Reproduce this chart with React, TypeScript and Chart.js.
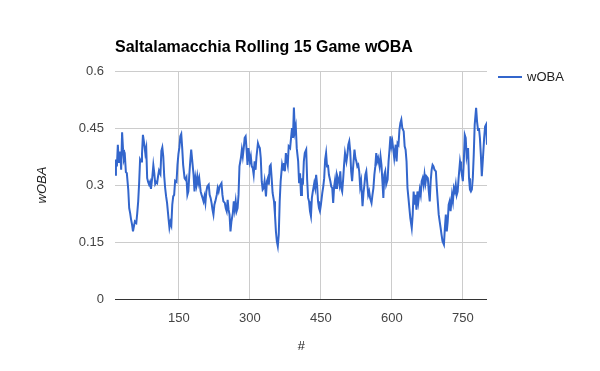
import React, { useEffect, useRef } from "react";
import { Chart, registerables } from "chart.js";

Chart.register(...registerables);

const chartTitle = "Saltalamacchia Rolling 15 Game wOBA";
const seriesName = "wOBA";
const xAxisTitle = "#";
const yAxisTitle = "wOBA";
const xTickValues = [150, 300, 450, 600, 750];
const yTickValues = [0, 0.15, 0.3, 0.45, 0.6];

const games = [
  15, 17, 19, 21, 23,
  26, 28, 30, 32, 34, 36, 38, 40,
  43, 45, 47, 49, 51, 53, 55, 57,
  60, 62, 64, 66, 68, 70, 72, 74,
  77, 79, 81, 83, 85, 87, 89, 91,
  94, 96, 98, 100, 102, 104, 106, 108,
  111, 113, 115, 117, 119, 121, 123, 125,
  128, 130, 132, 134, 136, 138, 140, 142,
  145, 147, 149, 151, 153, 155, 157, 159,
  162, 164, 166, 168, 170, 172, 174, 176,
  179, 181, 183, 185, 187, 189, 191, 193,
  196, 198, 200, 202, 204, 206, 208, 210,
  213, 215, 217, 219, 221, 223, 225, 227,
  230, 232, 234, 236, 238, 240, 242, 244,
  247, 249, 251, 253, 255, 257, 259, 261,
  264, 266, 268, 270, 272, 274, 276, 278,
  281, 283, 285, 287, 289, 291, 293, 295, 297,
  300, 302, 304, 306, 308, 310, 312, 314,
  317, 319, 321, 323, 325, 327, 329, 331,
  334, 336, 338, 340, 342, 344, 346, 348,
  351, 353, 355, 357, 359, 361, 363, 365,
  368, 370, 372, 374, 376, 378, 380, 382,
  385, 387, 389, 391, 393, 395, 397, 399,
  402, 404, 406, 408, 410, 412, 414, 416,
  419, 421, 423, 425, 427, 429, 431, 433,
  436, 438, 440, 442, 444, 446, 448, 450,
  453, 455, 457, 459, 461, 463, 465, 467,
  470, 472, 474, 476, 478, 480, 482, 484,
  487, 489, 491, 493, 495, 497, 499, 501,
  504, 506, 508, 510, 512, 514, 516, 518,
  521, 523, 525, 527, 529, 531, 533, 535,
  538, 540, 542, 544, 546, 548, 550, 552, 554,
  557, 559, 561, 563, 565, 567, 569, 571,
  574, 576, 578, 580, 582, 584, 586, 588,
  591, 593, 595, 597, 599, 601, 603, 605,
  608, 610, 612, 614, 616, 618, 620, 622,
  625, 627, 629, 631, 633, 635, 637, 639,
  642, 644, 646, 648, 650, 652, 654, 656,
  659, 661, 663, 665, 667, 669, 671, 673,
  676, 678, 680, 682, 684, 686, 688, 690,
  693, 695, 697, 699, 701, 703, 705, 707,
  710, 712, 714, 716, 718, 720, 722, 724,
  727, 729, 731, 733, 735, 737, 739, 741,
  744, 746, 748, 750, 752, 754, 756, 758,
  761, 763, 765, 767, 769, 771, 773, 775,
  778, 780, 782, 784, 786, 788, 790, 792,
  795, 797, 799, 801,
];

const woba = [
  0.327, 0.367, 0.349, 0.406, 0.358, 0.388, 0.340, 0.439, 0.393, 0.367,
  0.375, 0.334, 0.331, 0.288, 0.239, 0.226, 0.209, 0.196, 0.178, 0.191,
  0.204, 0.200, 0.226, 0.257, 0.305, 0.367, 0.362, 0.380, 0.432, 0.406,
  0.384, 0.397, 0.318, 0.308, 0.301, 0.308, 0.290, 0.323, 0.352, 0.331,
  0.303, 0.308, 0.305, 0.323, 0.338, 0.329, 0.390, 0.399, 0.375, 0.323,
  0.292, 0.270, 0.253, 0.213, 0.188, 0.202, 0.194, 0.248, 0.270, 0.274,
  0.311, 0.308, 0.353, 0.381, 0.399, 0.428, 0.434, 0.397, 0.353, 0.318,
  0.314, 0.320, 0.274,
  0.283, 0.327, 0.362, 0.393, 0.353, 0.327, 0.283, 0.318, 0.301, 0.323,
  0.305, 0.318, 0.283, 0.274, 0.266, 0.257, 0.270, 0.253, 0.283, 0.296,
  0.301, 0.274, 0.266, 0.253, 0.235, 0.222, 0.248, 0.257, 0.274, 0.292,
  0.283, 0.296, 0.301, 0.305, 0.274, 0.257, 0.253, 0.239, 0.231, 0.261,
  0.235, 0.222, 0.178, 0.204, 0.226, 0.257, 0.235, 0.257, 0.231, 0.239,
  0.274, 0.349, 0.371, 0.393, 0.375, 0.397, 0.424, 0.428, 0.393, 0.353,
  0.397, 0.362, 0.375, 0.349, 0.345, 0.327, 0.362, 0.340, 0.375, 0.410,
  0.402, 0.397, 0.371, 0.310, 0.288,
  0.292, 0.310, 0.270, 0.310, 0.318, 0.301, 0.349, 0.353, 0.318, 0.279,
  0.257, 0.222, 0.178, 0.152, 0.139, 0.169, 0.257, 0.310, 0.353, 0.340,
  0.358, 0.336, 0.384, 0.367, 0.353, 0.402, 0.397, 0.424, 0.450, 0.424,
  0.504, 0.441, 0.454, 0.397, 0.362, 0.305, 0.331, 0.274, 0.318, 0.301,
  0.362, 0.384, 0.393, 0.314, 0.266, 0.257, 0.231, 0.218, 0.266, 0.283,
  0.305, 0.292, 0.327, 0.301, 0.257, 0.239, 0.231, 0.248, 0.279, 0.296,
  0.318, 0.367, 0.384, 0.349, 0.353, 0.327, 0.310, 0.296, 0.292, 0.253,
  0.296, 0.314, 0.292, 0.327, 0.314,
  0.301, 0.336, 0.292, 0.283, 0.314, 0.353, 0.384, 0.362, 0.380, 0.406,
  0.415, 0.388, 0.336, 0.310, 0.345, 0.393, 0.371, 0.362, 0.349, 0.353,
  0.336, 0.296, 0.310, 0.244, 0.279, 0.301, 0.327, 0.336, 0.305, 0.274,
  0.283, 0.266, 0.253, 0.274, 0.292, 0.327, 0.349, 0.384, 0.362, 0.371,
  0.349, 0.375, 0.353, 0.310, 0.266, 0.327, 0.336, 0.301, 0.314, 0.362,
  0.393, 0.428, 0.402, 0.415, 0.393, 0.371, 0.406, 0.362, 0.410, 0.406,
  0.445, 0.463, 0.472, 0.450, 0.441, 0.402, 0.393, 0.362, 0.292, 0.266,
  0.239, 0.213, 0.187, 0.222, 0.283,
  0.248, 0.274, 0.235, 0.283, 0.257, 0.288, 0.274, 0.310, 0.318, 0.301,
  0.327, 0.305, 0.323, 0.318, 0.283, 0.257, 0.310, 0.340, 0.353, 0.349,
  0.340, 0.336, 0.292, 0.257, 0.222, 0.204, 0.187, 0.169, 0.152, 0.143,
  0.187, 0.222, 0.178, 0.204, 0.248, 0.257, 0.231, 0.274, 0.257, 0.292,
  0.283, 0.301, 0.274, 0.283, 0.318, 0.362, 0.345, 0.327, 0.310, 0.362,
  0.432, 0.424, 0.375, 0.397, 0.318, 0.288, 0.283, 0.288, 0.318, 0.380,
  0.459, 0.503, 0.467, 0.445, 0.450, 0.424, 0.380, 0.323, 0.362, 0.424,
  0.454, 0.459, 0.406,
];

const FONT = "'Liberation Sans', Arial, sans-serif";
const LINE_COLOR = "#3366cc";

const decorPlugin = {
  id: "decor",
  afterDraw(chart: any) {
    const ctx = chart.ctx as CanvasRenderingContext2D;
    const area = chart.chartArea;
    ctx.save();
    // Title
    ctx.fillStyle = "#000";
    ctx.font = `bold 16px ${FONT}`;
    ctx.textAlign = "left";
    ctx.textBaseline = "alphabetic";
    ctx.fillText(chartTitle, area.left, 52);
    // Legend
    ctx.strokeStyle = LINE_COLOR;
    ctx.lineWidth = 2;
    ctx.beginPath();
    ctx.moveTo(498, 77);
    ctx.lineTo(522, 77);
    ctx.stroke();
    ctx.fillStyle = "#222";
    ctx.font = `13px ${FONT}`;
    ctx.textBaseline = "middle";
    ctx.fillText(seriesName, 527, 77);
    // X axis title
    ctx.font = `italic 13px ${FONT}`;
    ctx.textAlign = "center";
    ctx.fillText(xAxisTitle, (area.left + area.right) / 2, 346);
    // Y axis title
    ctx.translate(42, (area.top + area.bottom) / 2);
    ctx.rotate(-Math.PI / 2);
    ctx.fillText(yAxisTitle, 0, 0);
    ctx.restore();
  },
};

export default function App() {
  const ref = useRef<HTMLCanvasElement | null>(null);

  useEffect(() => {
    document.body.style.margin = "0";
    const canvas = ref.current;
    if (!canvas) return;
    const n = Math.min(games.length, woba.length);
    const points = [];
    for (let i = 0; i < n; i++) points.push({ x: games[i], y: woba[i] });

    const chart = new Chart(canvas, {
      type: "line",
      data: {
        datasets: [
          {
            label: seriesName,
            data: points,
            borderColor: LINE_COLOR,
            backgroundColor: LINE_COLOR,
            borderWidth: 2,
            pointRadius: 0,
            fill: false,
            tension: 0,
          },
        ],
      },
      options: {
        animation: false,
        responsive: false,
        devicePixelRatio: 1,
        events: [],
        layout: { padding: { top: 71, right: 113, left: 0, bottom: 0 } },
        plugins: {
          legend: { display: false },
          title: { display: false },
          tooltip: { enabled: false },
        },
        scales: {
          x: {
            type: "linear",
            min: games[0],
            max: games[n - 1],
            afterBuildTicks: (s: any) => {
              s.ticks = xTickValues.map((v) => ({ value: v }));
            },
            afterFit: (s: any) => {
              s.height = 72;
            },
            ticks: {
              autoSkip: false,
              maxRotation: 0,
              padding: 12,
              color: "#444",
              font: { family: FONT, size: 13 },
            },
            grid: { color: "#cccccc", drawTicks: false, lineWidth: 1 },
            border: { display: false },
          },
          y: {
            type: "linear",
            min: 0,
            max: 0.6,
            afterBuildTicks: (s: any) => {
              s.ticks = yTickValues.map((v) => ({ value: v }));
            },
            afterFit: (s: any) => {
              s.width = 115;
            },
            ticks: {
              padding: 11,
              color: "#444",
              font: { family: FONT, size: 13 },
              callback: (v: any) => String(Number(Number(v).toFixed(2))),
            },
            grid: {
              drawTicks: false,
              lineWidth: 1,
              color: (c: any) => (c.tick && c.tick.value === 0 ? "#333333" : "#cccccc"),
            },
            border: { display: false },
          },
        },
      },
      plugins: [decorPlugin],
    });
    return () => chart.destroy();
  }, []);

  return (
    <div style={{ width: 600, height: 371 }}>
      <canvas ref={ref} width={600} height={371} style={{ display: "block" }} />
    </div>
  );
}
